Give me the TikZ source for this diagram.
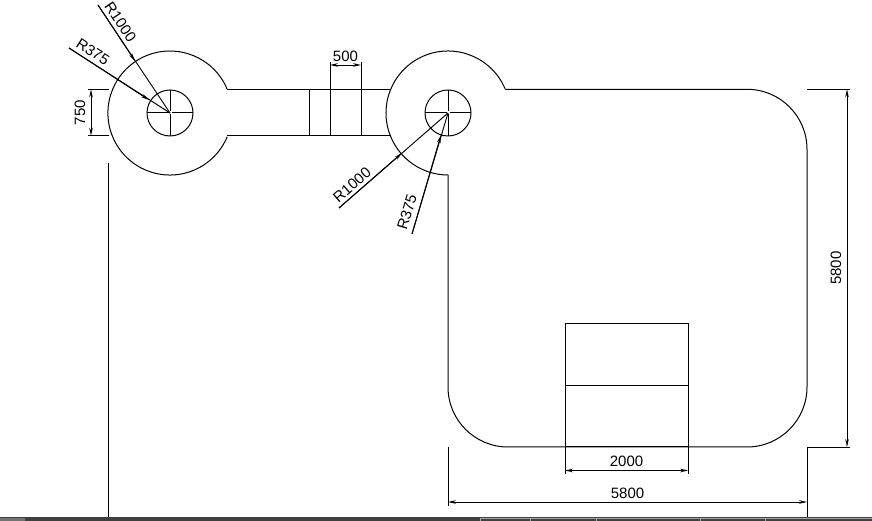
\documentclass[tikz,border=0pt]{standalone}
\usepackage{fontspec}
\setmainfont{Liberation Sans}
\usetikzlibrary{arrows.meta}
\tikzset{>={Stealth[length=8pt,width=3.6pt]}}
\colorlet{barcolor}{black!75}

\begin{document}
\begin{tikzpicture}[
x=1pt,y=1pt,
line width=1pt,
dimline/.style = {line width=0.95pt,<->},
leader/.style = {line width=0.95pt,->},
extline/.style = {line width=0.95pt},
dimtext/.style = {font=\fontsize{15}{15}\selectfont,inner sep=0pt},
                    ]
\useasboundingbox (0,0) rectangle (872,521);
\coordinate (cl) at (170,408);
\coordinate (cr) at (448,408);

% outline
\draw (227.2,431.7) arc[start angle=22.5,end angle=337.5,radius=62];
\draw (cr) ++(22.5:62) coordinate (jr)
      arc[start angle=22.5,end angle=270,radius=62] coordinate (jb);
\draw (jb) -- (448,134) arc[start angle=180,end angle=270,radius=60]
      -- (747,74) arc[start angle=270,end angle=360,radius=60]
      -- (807,371.7) arc[start angle=0,end angle=90,radius=60] -- (jr);
\draw (227.2,431.7) -- (390.8,431.7);
\draw (227.2,385.3) -- (390.8,385.3);
\draw (309,385.3) -- (309,431.7);
\draw (330,385.3) -- (330,459);
\draw (361,385.3) -- (361,459);

% small circles with center marks
\foreach \c in {cl,cr}{
    \draw (\c) circle[radius=23];
    \draw (\c) ++(-23,0) -- ++(21.5,0);
    \draw (\c) ++(1.5,0) -- ++(21.5,0);
    \draw (\c) ++(0,23) -- ++(0,-21.5);
    \draw (\c) ++(0,-1.5) -- ++(0,-21.5);
}

% box
\draw (565,74) rectangle (688,197.5);
\draw (565,135.7) -- (688,135.7);

% free lines
\draw[extline] (108,358) -- (108,4);
\draw[extline] (88,431.7) -- (109,431.7);
\draw[extline] (88,385.3) -- (109,385.3);
\draw[extline] (807,431.7) -- (850,431.7);
\draw[extline] (807,74) -- (850,74);
\draw[extline] (807,74) -- (807,4);
\draw[extline] (448,74) -- (448,15);
\draw[extline] (565,74) -- (565,47);
\draw[extline] (688,74) -- (688,47);

% dimensions
\draw[dimline] (91,431.7) -- node[dimtext,rotate=90,yshift=11pt] (d750) {750} (91,385.3);
\draw[dimline] (330,456) -- node[dimtext,above=3pt] (d500) {500} (361,456);
\draw[dimline] (847,431.7) -- node[dimtext,rotate=90,yshift=11pt] (d5800v) {5800} (847,74);
\draw[dimline] (565,50.5) -- node[dimtext,above=3pt] (d2000) {2000} (688,50.5);
\draw[dimline] (448,19) -- node[dimtext,above=3pt] (d5800h) {5800} (807,19);

% radius leaders
\draw[extline] (98,516) -- (cl);
\draw[leader] (98,516) -- (135,460);
\draw[extline] (69,473) -- (cl);
\draw[leader] (69,473) -- (149,421);
\node[dimtext,rotate=-56] (r1000l) at (120.5,499) {R1000};
\node[dimtext,rotate=-33] (r375l) at (93,469) {R375};
\draw[extline] (339,313) -- (cr);
\draw[leader] (339,313) -- (402,368);
\draw[extline] (412,287) -- (cr);
\draw[leader] (412,287) -- (441,386);
\node[dimtext,rotate=41] (r1000r) at (352,336) {R1000};
\node[dimtext,rotate=73] (r375r) at (407,309) {R375};

% bottom bar
\fill[barcolor] (0,0) rectangle (872,4);
\fill[black!55] (0,0) rectangle (25,3);
\foreach \x in {480,530,596,700,765}
    \draw[black!35,line width=0.6pt] (\x,0) -- (\x,3) -- (872,3);
\end{tikzpicture}
\end{document}
